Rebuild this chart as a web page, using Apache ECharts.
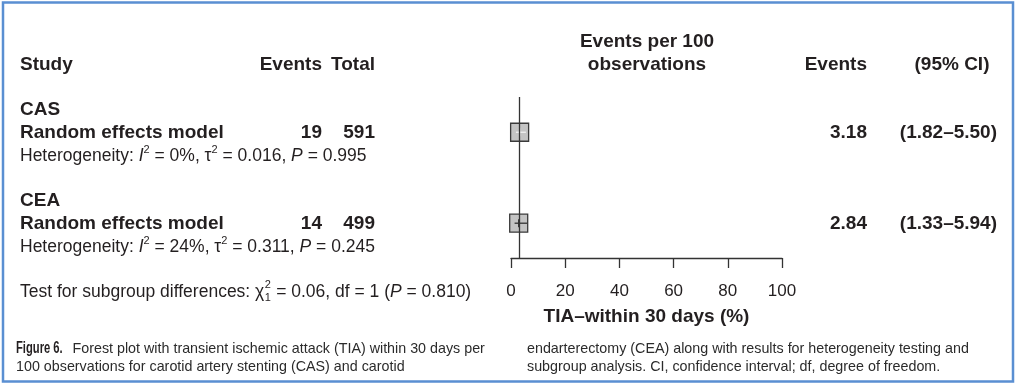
<!DOCTYPE html>
<html><head><meta charset="utf-8">
<script src="https://cdn.jsdelivr.net/npm/echarts@6/dist/echarts.min.js"></script>
<style>html,body{margin:0;padding:0;background:#fff}#c{width:1017px;height:386px}</style>
</head><body><div id="c"></div>
<script>
// ---------- data ----------
const groups = ['CAS', 'CEA'];
const modelLabel = 'Random effects model';
const events = [19, 14];
const totals = [591, 499];
const estimates = [3.18, 2.84];
const ciLower = [1.82, 1.33];
const ciUpper = [5.50, 5.94];
const hetI2 = ['0%', '24%'];
const hetTau2 = ['0.016', '0.311'];
const hetP = ['0.995', '0.245'];
const subgroupChi2 = '0.06';
const subgroupDf = '1';
const subgroupP = '0.810';
const overallEstimate = 3.05;
const xTicks = [0, 20, 40, 60, 80, 100];
const headers = ['Study', 'Events', 'Total', 'Events per 100', 'observations', 'Events', '(95% CI)'];
const axisTitle = 'TIA\u2013within 30 days (%)';
const captionLabel = 'Figure 6.';
const captionLeft = ['Forest plot with transient ischemic attack (TIA) within 30 days per',
                     '100 observations for carotid artery stenting (CAS) and carotid'];
const captionRight = ['endarterectomy (CEA) along with results for heterogeneity testing and',
                      'subgroup analysis. CI, confidence interval; df, degree of freedom.'];

// ---------- layout / style ----------
const FONT = '"Liberation Sans", Arial, Helvetica, sans-serif';
const INK = '#231f20';
const REG = 17.5, BOLD = 19;
const rowY = r => 42 + (r - 1) * 22.75;
const groupRows = [4, 8];

function txt(x, y, text, o) {
  o = o || {};
  const el = {
    type: 'text', x: x, y: y, silent: true, z: 10,
    style: {
      text: text, fill: o.fill || INK, fontFamily: FONT,
      fontSize: o.size || REG, fontWeight: o.bold ? 'bold' : 'normal',
      align: o.align || 'left', textAlign: o.align || 'left',
      verticalAlign: o.va || 'middle', textVerticalAlign: o.va || 'middle',
      lineHeight: o.lh, rich: o.rich
    }
  };
  if (o.scaleX) { el.scaleX = o.scaleX; el.scaleY = 1; }
  return el;
}
const richHet = {
  it: { fontFamily: FONT, fontSize: REG, fontStyle: 'italic', fill: INK, lineHeight: 22 },
  sup: { fontFamily: FONT, fontSize: 11, fill: INK, lineHeight: 8, verticalAlign: 'top' },
  n: { fontFamily: FONT, fontSize: REG, fill: INK, lineHeight: 22 }
};

const g = [];
// frame
g.push({ type: 'rect', silent: true, z: 0,
  shape: { x: 3, y: 2.5, width: 1010, height: 379 },
  style: { fill: 'none', stroke: '#5a8fd2', lineWidth: 2.5 } });
// headers
g.push(txt(20, rowY(2), headers[0], { bold: true, size: BOLD }));
g.push(txt(322, rowY(2), headers[1], { bold: true, size: BOLD, align: 'right' }));
g.push(txt(375, rowY(2), headers[2], { bold: true, size: BOLD, align: 'right' }));
g.push(txt(647, rowY(1), headers[3], { bold: true, size: BOLD, align: 'center' }));
g.push(txt(647, rowY(2), headers[4], { bold: true, size: BOLD, align: 'center' }));
g.push(txt(867, rowY(2), headers[5], { bold: true, size: BOLD, align: 'right' }));
g.push(txt(952, rowY(2), headers[6], { bold: true, size: BOLD, align: 'center' }));

groups.forEach((name, i) => {
  const r = groupRows[i];
  g.push(txt(20, rowY(r), name, { bold: true, size: BOLD }));
  g.push(txt(20, rowY(r + 1), modelLabel, { bold: true, size: BOLD }));
  g.push(txt(322, rowY(r + 1), String(events[i]), { bold: true, size: BOLD, align: 'right' }));
  g.push(txt(375, rowY(r + 1), String(totals[i]), { bold: true, size: BOLD, align: 'right' }));
  g.push(txt(867, rowY(r + 1), estimates[i].toFixed(2), { bold: true, size: BOLD, align: 'right' }));
  g.push(txt(997, rowY(r + 1), '(' + ciLower[i].toFixed(2) + '\u2013' + ciUpper[i].toFixed(2) + ')',
    { bold: true, size: BOLD, align: 'right' }));
  g.push(txt(20, rowY(r + 2),
    'Heterogeneity: {it|I}{sup|2} = ' + hetI2[i] + ', {n|\u03c4}{sup|2} = ' + hetTau2[i] + ', {it|P} = ' + hetP[i],
    { lh: 22, rich: richHet }));
});

// subgroup test line
const ctx = document.createElement('canvas').getContext('2d');
ctx.font = REG + 'px ' + FONT;
const part1 = 'Test for subgroup differences: \u03c7';
const w1 = ctx.measureText(part1).width;
const ty = rowY(12);
g.push(txt(20, ty, part1));
g.push(txt(20 + w1 + 0.5, ty - 7, '2', { size: 11 }));
g.push(txt(20 + w1 + 0.5, ty + 6, '1', { size: 11 }));
g.push(txt(20 + w1 + 7, ty, ' = ' + subgroupChi2 + ', df = ' + subgroupDf + ' ({it|P} = ' + subgroupP + ')',
  { lh: 22, rich: richHet }));

// caption
const CAP = 14.3, CAPFILL = '#2b2b2b';
g.push(txt(16, 349, captionLabel, { size: 16, bold: true, scaleX: 0.7, fill: INK }));
g.push(txt(72.5, 349, captionLeft[0], { size: CAP, fill: CAPFILL }));
g.push(txt(16, 367, captionLeft[1], { size: CAP, fill: CAPFILL }));
g.push(txt(527, 349, captionRight[0], { size: CAP, fill: CAPFILL }));
g.push(txt(527, 367, captionRight[1], { size: CAP, fill: CAPFILL }));

// ---------- chart ----------
const chart = echarts.init(document.getElementById('c'), null, { renderer: 'canvas' });
chart.setOption({
  animation: false,
  backgroundColor: '#fff',
  grid: { left: 511, width: 271, top: 97, height: 161, containLabel: false },
  xAxis: {
    type: 'value', min: xTicks[0], max: xTicks[xTicks.length - 1], interval: xTicks[1] - xTicks[0],
    splitLine: { show: false },
    axisLine: { show: true, onZero: false, lineStyle: { color: '#333', width: 1.3 } },
    axisTick: { show: true, length: 10, inside: false, lineStyle: { color: '#333', width: 1.3 } },
    axisLabel: { show: true, margin: 25, color: INK, fontSize: 17, fontFamily: FONT },
    name: axisTitle, nameLocation: 'middle', nameGap: 49,
    nameTextStyle: { color: INK, fontSize: BOLD, fontWeight: 'bold', fontFamily: FONT }
  },
  yAxis: { type: 'value', inverse: true, min: 3.45, max: 10.53, show: false },
  series: [
    {
      type: 'line', data: [], z: 1, silent: true,
      markLine: {
        silent: true, symbol: ['none', 'none'], label: { show: false }, animation: false,
        lineStyle: { color: '#333', width: 1.3, type: 'solid' },
        data: [{ xAxis: overallEstimate }]
      }
    },
    {
      type: 'custom', z: 3, silent: true,
      data: groups.map((n, i) => [estimates[i], ciLower[i], ciUpper[i], groupRows[i] + 1, i]),
      renderItem: function (params, api) {
        const row = api.value(3);
        const c = api.coord([api.value(0), row]);
        const lo = api.coord([api.value(1), row]);
        const hi = api.coord([api.value(2), row]);
        const h = 9;
        const inner = api.value(4) === 0 ? '#f2f2f2' : '#333';
        return {
          type: 'group', children: [
            { type: 'rect', shape: { x: c[0] - h, y: c[1] - h, width: 2 * h, height: 2 * h },
              style: { fill: '#c4c4c4', stroke: '#3a3a3a', lineWidth: 1.3 } },
            { type: 'line', shape: { x1: lo[0], y1: c[1], x2: hi[0], y2: c[1] },
              style: { stroke: inner, lineWidth: 1.3 } },
            { type: 'line', shape: { x1: c[0], y1: c[1] - 4, x2: c[0], y2: c[1] + 4 },
              style: { stroke: inner, lineWidth: 1.3 } }
          ]
        };
      }
    }
  ],
  graphic: { elements: g }
});
</script>
</body></html>
